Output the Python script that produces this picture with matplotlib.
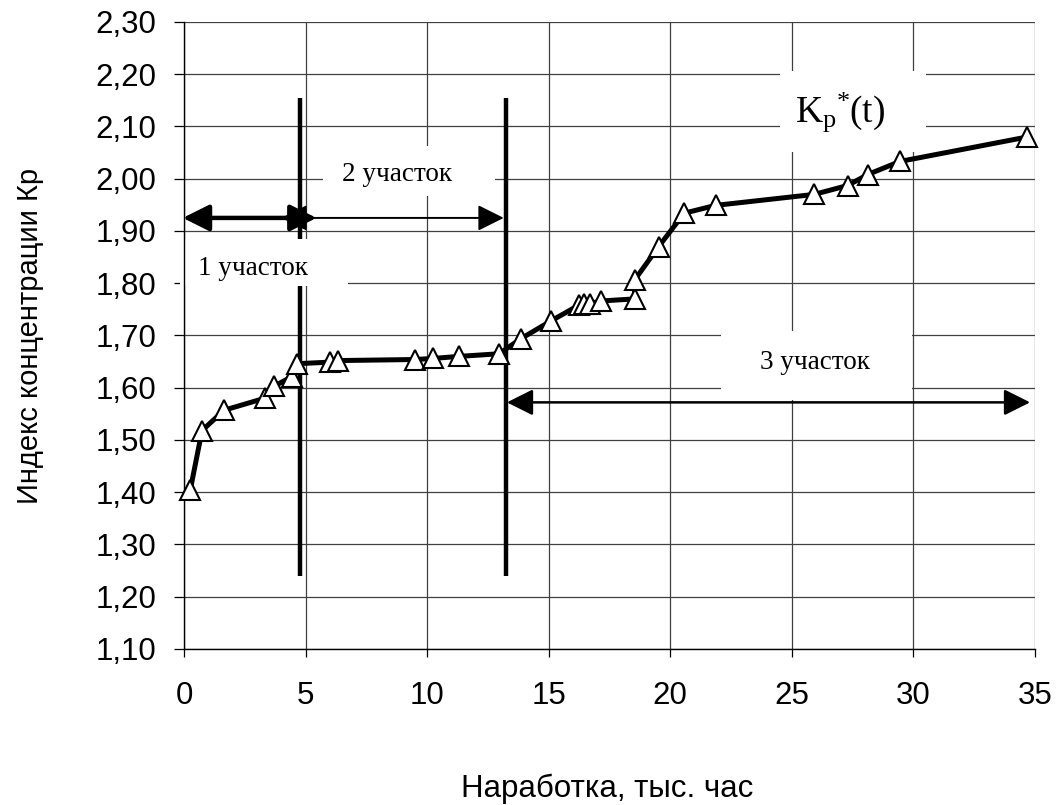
import matplotlib
matplotlib.use("Agg")
import matplotlib.pyplot as plt
from matplotlib.patches import Rectangle
from matplotlib.ticker import FuncFormatter

# наработка, тыс. час / индекс концентрации
t_hours = [0.26, 0.74, 1.65, 3.33, 3.71, 4.43, 4.64, 6.01, 6.35, 9.49, 10.23,
           11.31, 12.96, 13.86, 15.10, 16.24, 16.46, 16.68, 17.14, 18.53,
           18.53, 19.52, 20.57, 21.86, 25.92, 27.29, 28.12, 29.44, 34.69]
k_index = [1.405, 1.518, 1.557, 1.580, 1.603, 1.621, 1.646, 1.649, 1.652,
           1.654, 1.656, 1.660, 1.665, 1.694, 1.728, 1.758, 1.760, 1.761,
           1.766, 1.770, 1.806, 1.870, 1.934, 1.949, 1.970, 1.987, 2.008,
           2.033, 2.080]

# границы участков
boundaries = [4.77, 13.23]
x_ticks = [0, 5, 10, 15, 20, 25, 30, 35]
y_ticks = [1.10, 1.20, 1.30, 1.40, 1.50, 1.60, 1.70, 1.80, 1.90, 2.00,
           2.10, 2.20, 2.30]

plt.rcParams['font.family'] = ['Liberation Sans', 'DejaVu Sans']
plt.rcParams['mathtext.fontset'] = 'custom'
plt.rcParams['mathtext.rm'] = 'Liberation Serif'
plt.rcParams['mathtext.it'] = 'Liberation Serif:italic'

fig = plt.figure(figsize=(10.6, 8.05), dpi=100)
ax = fig.add_axes([0.1736, 0.1938, 0.8028, 0.7789])

ax.set_xlim(0, 35)
ax.set_ylim(1.10, 2.30)
ax.set_xticks(x_ticks)
ax.set_yticks(y_ticks)
ax.yaxis.set_major_formatter(FuncFormatter(lambda v, p: f"{v:.2f}".replace('.', ',')))
ax.grid(True, color='#404040', linewidth=0.9, zorder=0)
ax.set_axisbelow(True)
for s in ['top', 'right']:
    ax.spines[s].set_visible(False)
for s in ['left', 'bottom']:
    ax.spines[s].set_color('black')
    ax.spines[s].set_linewidth(1.0)
ax.tick_params(axis='x', direction='out', length=6, width=0.9, pad=17, labelsize=22.5)
ax.tick_params(axis='y', direction='out', length=7, width=0.9, pad=13, labelsize=22.5)

# вертикальные границы
for b in boundaries:
    ax.plot([b, b], [1.24, 2.155], color='black', linewidth=3.2,
            solid_capstyle='butt', zorder=1)

# белые подложки под надписями
boxes = [(-0.16, 1.795, 6.9, 0.089), (5.72, 1.966, 7.08, 0.096),
         (24.5, 2.051, 6.0, 0.155), (22.07, 1.576, 7.87, 0.132)]
for (bx, by, bw, bh) in boxes:
    ax.add_patch(Rectangle((bx, by), bw, bh, facecolor='white',
                           edgecolor='none', zorder=1.5, clip_on=False))

# кривая
ax.plot(t_hours, k_index, color='black', linewidth=3.6, marker='^',
        markersize=14, markerfacecolor='white', markeredgecolor='black',
        markeredgewidth=1.5, zorder=3, clip_on=False)

# стрелки участков
def arrow(x0, x1, y, lw):
    ax.annotate('', xy=(x1, y), xytext=(x0, y),
                arrowprops=dict(arrowstyle='<|-|>,head_length=0.4,head_width=0.2',
                                mutation_scale=40, color='black', lw=lw,
                                shrinkA=0, shrinkB=0),
                zorder=4, annotation_clip=False)

arrow(-0.05, 5.45, 1.925, 3.2)
arrow(4.0, 13.15, 1.925, 1.4)
arrow(13.28, 34.8, 1.572, 1.8)

serif = ['Liberation Serif', 'DejaVu Serif']
ax.text(2.84, 1.829, '1 участок', family=serif, fontsize=19.5,
        ha='center', va='center', zorder=5)
ax.text(8.77, 2.008, '2 участок', family=serif, fontsize=19.5,
        ha='center', va='center', zorder=5)
ax.text(25.97, 1.648, '3 участок', family=serif, fontsize=19.5,
        ha='center', va='center', zorder=5)
ax.text(27.0, 2.127, r'$\mathrm{K_p\!{}^*\!(t)}$', fontsize=27,
        ha='center', va='center', zorder=5)

ax.set_xlabel('Наработка, тыс. час', fontsize=22.5)
ax.set_ylabel('Индекс концентрации Кр', fontsize=21)
ax.xaxis.set_label_coords(0.497, -0.223)
ax.yaxis.set_label_coords(-0.181, 0.5)
ax.xaxis.label.set_va('center')
ax.yaxis.label.set_va('center')

fig.savefig('out.png', dpi=100)
